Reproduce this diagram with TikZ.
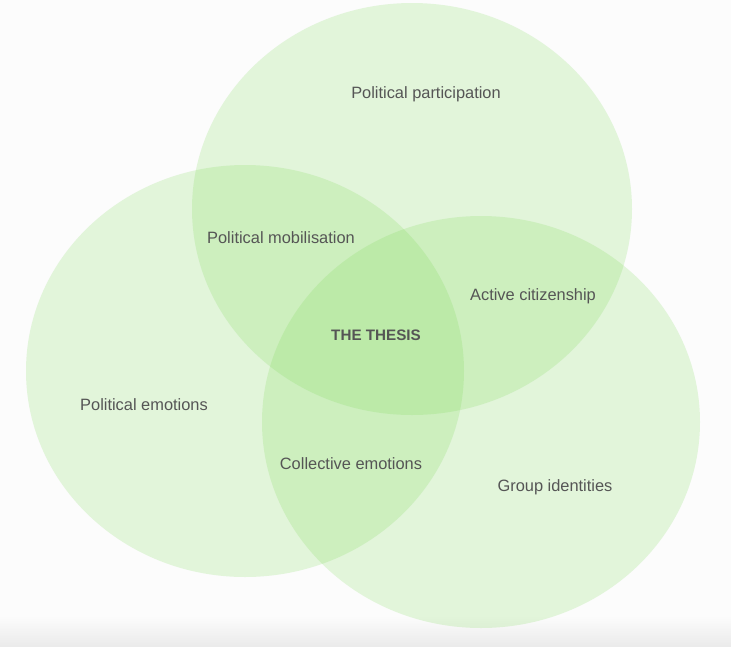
\documentclass[tikz,border=0pt]{standalone}
\usepackage{fontspec}
\setmainfont{Liberation Sans}
\usepackage{tikz}
\usetikzlibrary{positioning}

\definecolor{bg}{HTML}{FCFCFC}
\definecolor{venn}{RGB}{122,217,82}
\definecolor{txt}{HTML}{555555}

\begin{document}
\begin{tikzpicture}[
  x=1pt, y=-1pt,
  set/.style={fill=venn, fill opacity=0.2},
  lbl/.style={text=txt, font=\fontsize{16.4}{19}\selectfont, inner sep=0pt},
  core/.style={lbl, font=\fontsize{15.2}{18}\selectfont\bfseries},
]

% === Canvas and bottom shadow ===
\fill[bg] (0,0) rectangle (731,646);
\shade[top color=bg, bottom color=black!8] (0,616) rectangle (731,646);
\useasboundingbox (0,0) rectangle (731,646);

% === The three sets ===
\fill[set] (412,209) ellipse [x radius=220, y radius=206];
\fill[set] (245,371) ellipse [x radius=219, y radius=206];
\fill[set] (481,422) ellipse [x radius=219, y radius=206];

% === Labels ===
\node[lbl] (part)  at (426,94.5)  {Political participation};
\node[lbl] (emot)  at (144,404.5) {Political emotions};
\node[lbl] (ident) at (555,487.5) {Group identities};

% overlaps
\node[lbl] (mobil) at (281,237.5) {Political mobilisation};
\node[lbl] (citiz) at (533,296.5) {Active citizenship};
\node[lbl] (coll)  at (351,463.5) {Collective emotions};

% centre
\node[core] (thesis) at (376,335) {THE THESIS};
\end{tikzpicture}
\end{document}
